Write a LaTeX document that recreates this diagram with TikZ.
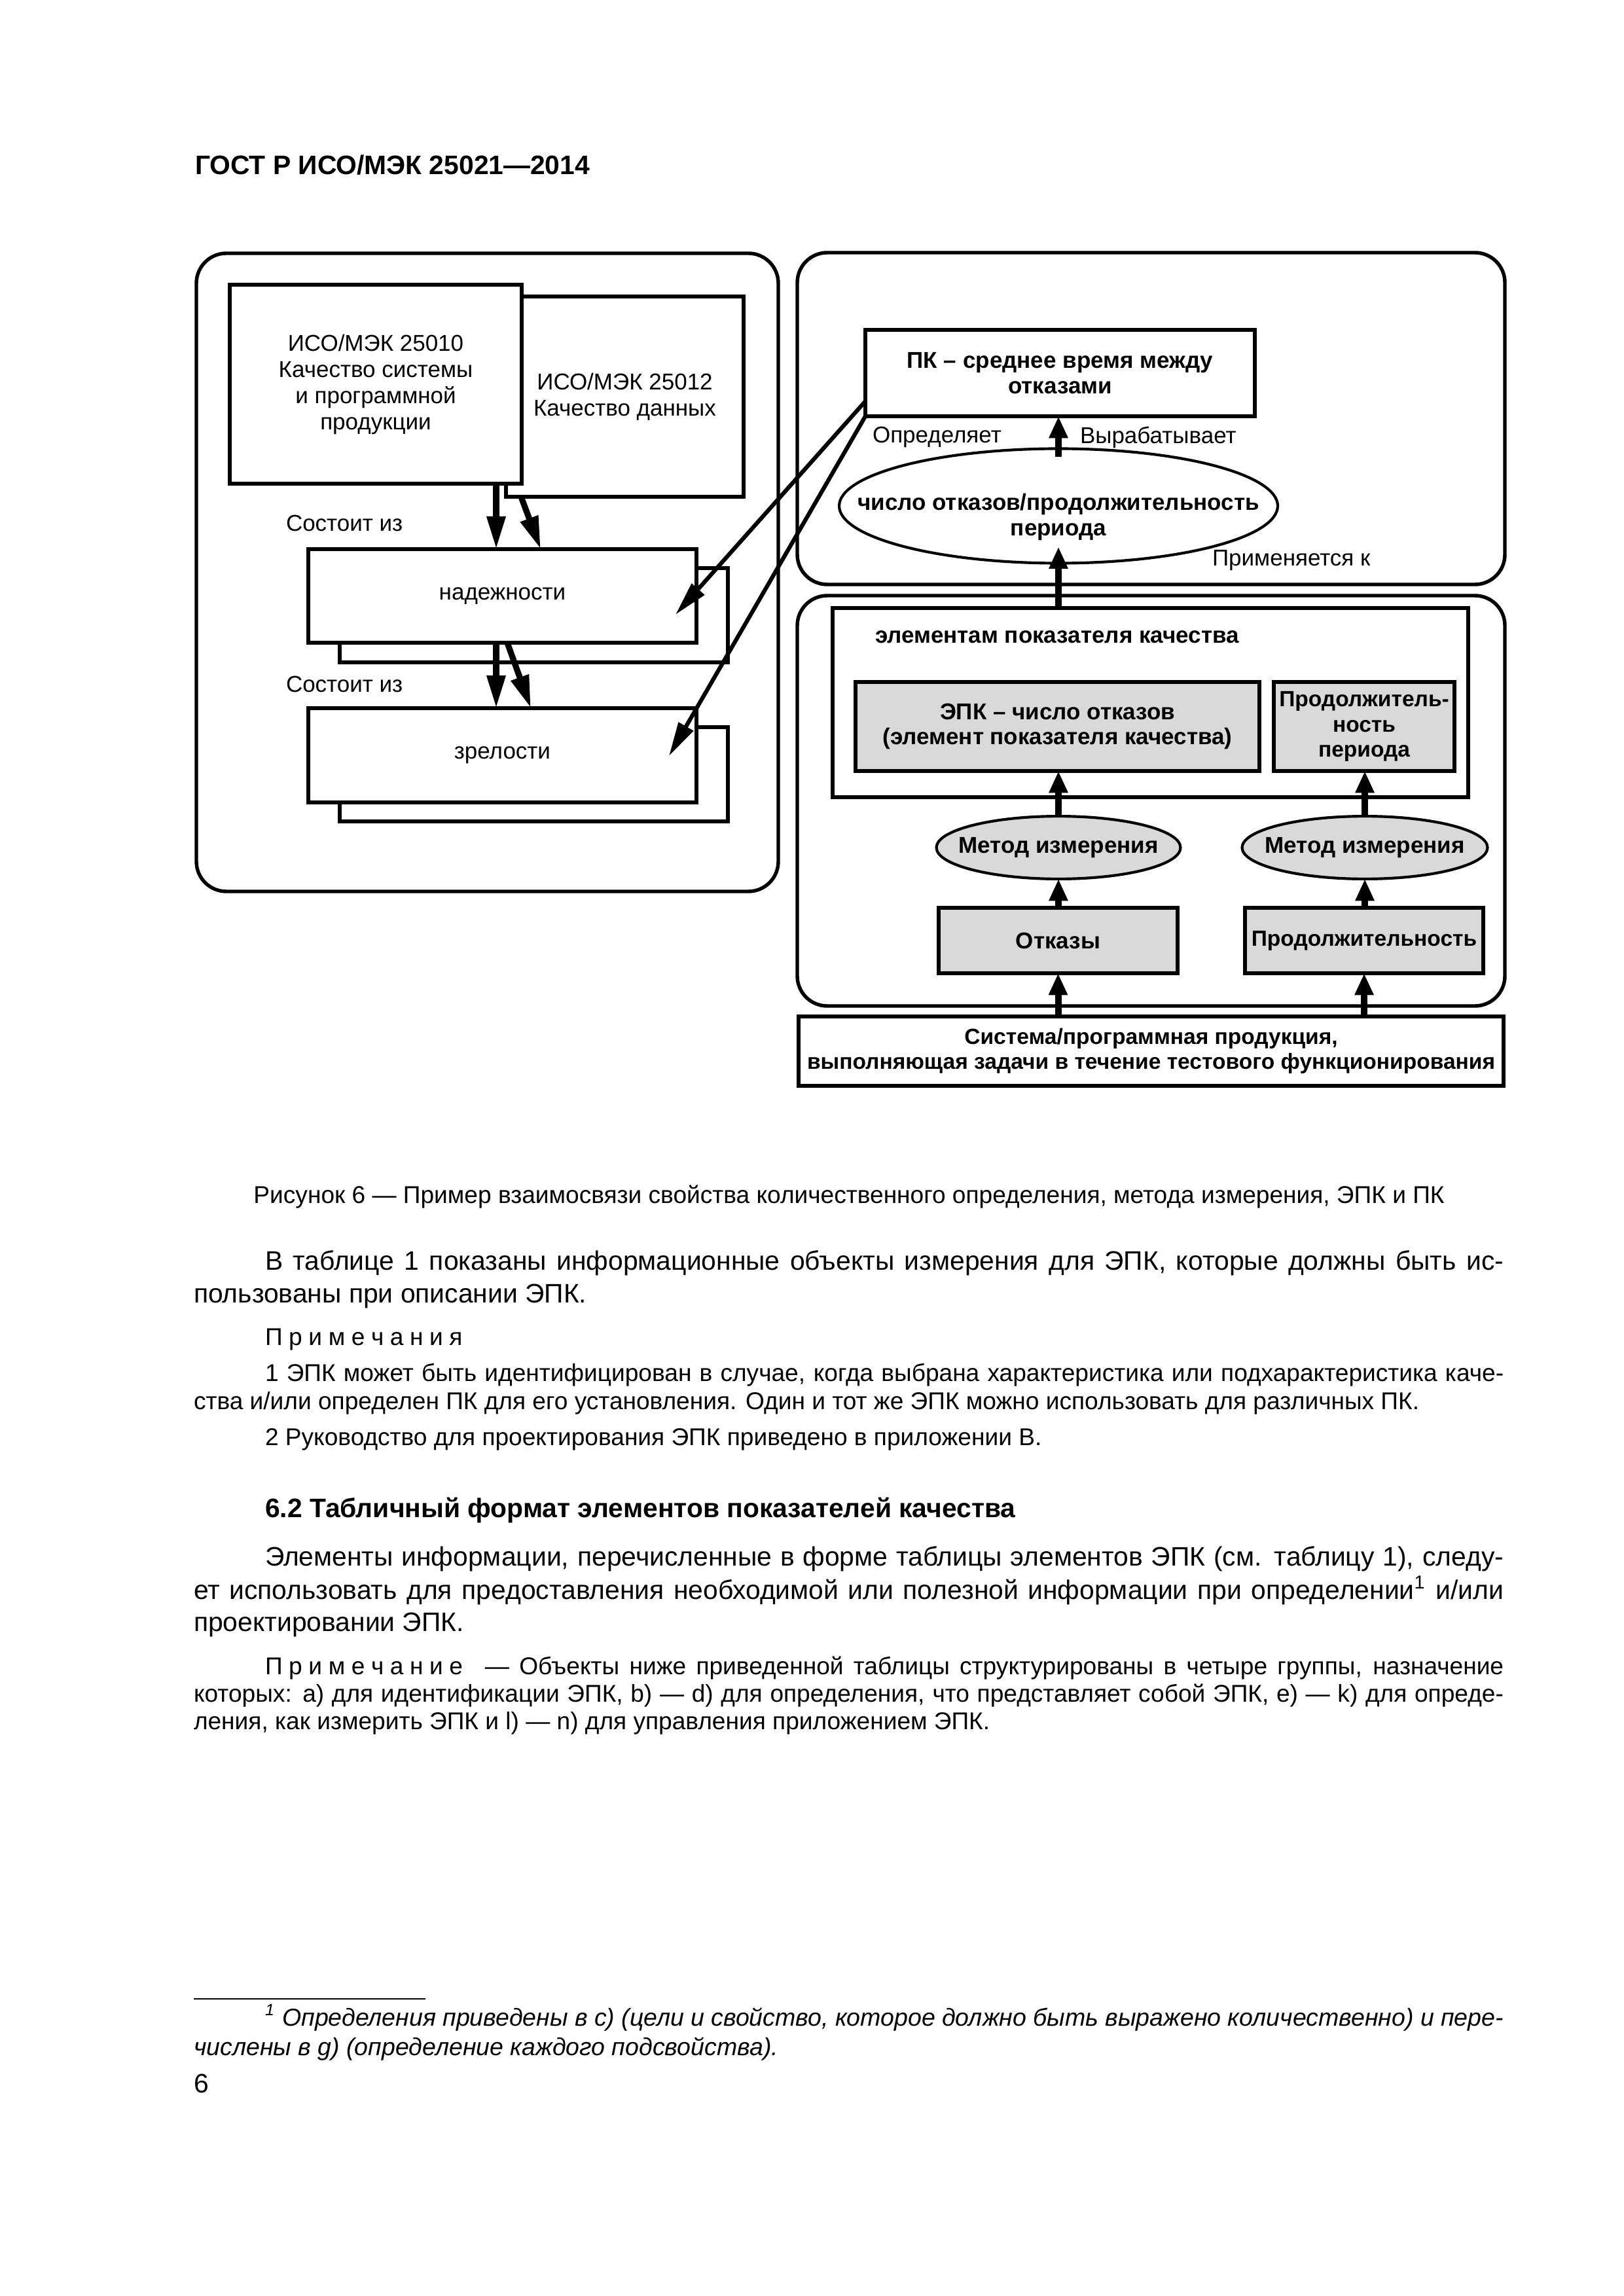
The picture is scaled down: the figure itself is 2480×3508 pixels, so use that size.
\documentclass[tikz,border=0pt]{standalone}
\usepackage{fontspec}
\setmainfont{Liberation Sans}
\usetikzlibrary{arrows.meta,shapes.geometric,fit}
\newcommand{\lsp}{\kern2.3pt}
\tikzset{
  every node/.style={inner sep=0pt, outer sep=0pt},
  frame/.style={draw, line width=1.3pt, rounded corners=11pt},
  box/.style={draw, line width=1.4pt, fill=white, align=center, rectangle},
  gbox/.style={box, fill=black!15},
  ell/.style={ellipse, draw, line width=1pt},
  dfont/.style={font=\fontsize{8.4pt}{9.6pt}\selectfont, align=center},
  bfont/.style={font=\bfseries\fontsize{8.4pt}{9.2pt}\selectfont, align=center},
  sbfont/.style={font=\bfseries\fontsize{8.05pt}{9.2pt}\selectfont, align=center},
  lbl/.style={font=\fontsize{8.4pt}{9.6pt}\selectfont},
  arr/.style={line width=2.4pt, -{Triangle[length=8pt,width=6.5pt]}},
  larr/.style={line width=2.2pt, -{Triangle[length=12pt,width=6.5pt]}},
  darr/.style={line width=1.5pt, -{Triangle[length=12.5pt,width=6pt]}},
  body/.style={anchor=base west, font=\fontsize{9.8pt}{12pt}\selectfont},
  bodyb/.style={anchor=base west, font=\bfseries\fontsize{9.8pt}{12pt}\selectfont},
  note/.style={anchor=base west, font=\fontsize{8.9pt}{10.5pt}\selectfont},
  fnote/.style={anchor=base west, font=\itshape\fontsize{9pt}{10.8pt}\selectfont}
}
\begin{document}
\begin{tikzpicture}[x=0.24pt,y=-0.24pt]
\useasboundingbox (0,0) rectangle (2480,3508);

% header
\node[bodyb] (hdr) at (298,267) {ГОСТ Р ИСО/МЭК 25021—2014};

% ---------- left panel ----------
\node[frame, fit={(300,387) (1189,1362)}] (lframe) {};
\node[box, dfont, minimum width=87.12pt, minimum height=73.44pt] (b25012) at (954.5,606) {ИСО/МЭК 25012\\Качество данных};
\node[box, dfont, minimum width=107.04pt, minimum height=72.96pt] (b25010) at (574,587) {ИСО/МЭК 25010\\Качество системы\\и программной\\продукции};
\node[box, minimum width=142.32pt, minimum height=34.56pt] (nadb) at (815.5,940) {};
\node[box, dfont, minimum width=142.32pt, minimum height=34.32pt] (nad) at (767.5,910.5) {надежности};
\node[box, minimum width=142.32pt, minimum height=34.56pt] (zreb) at (815.5,1183) {};
\node[box, dfont, minimum width=142.32pt, minimum height=34.56pt] (zre) at (767.5,1154) {зрелости};
\node[lbl, anchor=west] (sost1) at (437,799) {Состоит из};
\node[lbl, anchor=west] (sost2) at (437,1045) {Состоит из};

% ---------- right top panel ----------
\node[frame, fit={(1218,386) (2299,893)}] (rtframe) {};
\node[box, bfont, minimum width=142.8pt, minimum height=31.68pt] (pk) at (1619.5,570) {ПК – среднее время между\\отказами};
\node[ell, minimum width=160.8pt, minimum height=42pt] (ell) at (1617,773) {};
\node[bfont] (ellt) at (1617,790) {число отказов/продолжительность\\периода};
\node[lbl, anchor=west] (opr) at (1333,668) {Определяет};
\node[lbl, anchor=west] (vyr) at (1650,668) {Вырабатывает};
\node[lbl, anchor=west] (prim) at (1852,856) {Применяется к};

% ---------- right bottom panel ----------
\node[frame, fit={(1218,910) (2299,1537)}] (rbframe) {};
\node[box, minimum width=233.04pt, minimum height=69.36pt] (elem) at (1757.5,1073.5) {};
\node[bfont, anchor=west] (elemt) at (1337,973) {элементам показателя качества};
\node[gbox, bfont, minimum width=148.08pt, minimum height=32.64pt] (epk) at (1615.5,1110) {ЭПК – число отказов\\(элемент показателя качества)};
\node[gbox, sbfont, minimum width=66.24pt, minimum height=32.64pt] (dur) at (2084,1110) {Продолжитель-\\ность\\периода};
\node[ell, fill=black!15, minimum width=89.5pt, minimum height=23pt] (m1) at (1617,1295) {};
\node[bfont] (m1t) at (1617,1295) {Метод измерения};
\node[ell, fill=black!15, minimum width=90pt, minimum height=23pt] (m2) at (2085,1295) {};
\node[bfont] (m2t) at (2085,1295) {Метод измерения};
\node[gbox, bfont, minimum width=87.6pt, minimum height=24pt] (otk) at (1616.5,1437) {Отказы};
\node[gbox, sbfont, minimum width=87.36pt, minimum height=24pt] (prod) at (2084,1437) {Продолжительность};
\node[box, sbfont, minimum width=258.48pt, minimum height=25.44pt] (sys) at (1758.5,1606) {Система/программная продукция,\\выполняющая задачи в течение тестового функционирования};

% ---------- connectors ----------
\coordinate (x758) at (758,0);
\coordinate (x796) at (796,0);
\coordinate (x826) at (826,0);
\coordinate (x775) at (775,0);
\coordinate (x811) at (811,0);
\coordinate (tipN) at (1032,939);
\coordinate (tipZ) at (1022,1155);
\draw[larr] (b25010.south -| x758) -- (nad.north -| x758);
\draw[larr] (b25012.south -| x796) -- (nad.north -| x826);
\draw[larr] (nad.south -| x758) -- (zre.north -| x758);
\draw[larr] (nad.south -| x775) -- (zre.north -| x811);
\draw[darr] ([yshift=5.5pt]pk.south west) -- (tipN);
\draw[darr] (pk.south west) -- (tipZ);
\draw[arr] ([yshift=-3pt]ell.north) -- (pk.south -| ell.north);
\draw[arr] (elem.north -| ell.south) -- ([yshift=6pt]ell.south);
\draw[arr] (m1.north) -- (epk.south -| m1.north);
\draw[arr] (m2.north) -- (dur.south -| m2.north);
\draw[arr] (otk.north -| m1.south) -- (m1.south);
\draw[arr] (prod.north -| m2.south) -- (m2.south);
\draw[arr] (sys.north -| otk.south) -- (otk.south);
\draw[arr] (sys.north -| prod.south) -- (prod.south);

% ---------- page text ----------
\node[note, anchor=base] (cap) at (1297,1838) {Рисунок 6 — Пример взаимосвязи свойства количественного определения, метода измерения, ЭПК и ПК};
\node[body] (p1) at (405,1940) {\makebox[454.1pt][s]{В таблице 1 показаны информационные объекты измерения для ЭПК, которые должны быть ис-}};
\node[body] (p2) at (296,1990) {пользованы при описании ЭПК.};
\node[note] (n0) at (405,2055) {П\lsp р\lsp и\lsp м\lsp е\lsp ч\lsp а\lsp н\lsp и\lsp я};
\node[note] (n1) at (405,2110) {\makebox[454.1pt][s]{1 ЭПК может быть идентифицирован в случае, когда выбрана характеристика или подхарактеристика каче-}};
\node[note] (n2) at (296,2153) {ства и/или определен ПК для его установления. Один и тот же ЭПК можно использовать для различных ПК.};
\node[note] (n3) at (405,2208) {2 Руководство для проектирования ЭПК приведено в приложении В.};
\node[bodyb] (s62) at (405,2318) {6.2 Табличный формат элементов показателей качества};
\node[body] (q1) at (405,2392) {\makebox[454.1pt][s]{Элементы информации, перечисленные в форме таблицы элементов ЭПК (см. таблицу 1), следу-}};
\node[body] (q2) at (296,2443) {\makebox[480.2pt][s]{ет использовать для предоставления необходимой или полезной информации при определении\textsuperscript{1} и/или}};
\node[body] (q3) at (296,2492) {проектировании ЭПК.};
\node[note] (r1) at (405,2558) {\makebox[454.1pt][s]{П\lsp р\lsp и\lsp м\lsp е\lsp ч\lsp а\lsp н\lsp и\lsp е\hspace{0.5em} — Объекты ниже приведенной таблицы структурированы в четыре группы, назначение}};
\node[note] (r2) at (296,2600) {\makebox[480.2pt][s]{которых: а) для идентификации ЭПК, b) — d) для определения, что представляет собой ЭПК, е) — k) для опреде-}};
\node[note] (r3) at (296,2642) {ления, как измерить ЭПК и l) — n) для управления приложением ЭПК.};
\draw[line width=0.5pt] (296,3054) -- (650,3054);
\node[fnote] (f1) at (405,3095) {\makebox[454.1pt][s]{\textsuperscript{1} Определения приведены в с) (цели и свойство, которое должно быть выражено количественно) и пере-}};
\node[fnote] (f2) at (296,3140) {числены в g) (определение каждого подсвойства).};
\node[body] (pg) at (296,3197) {6};
\end{tikzpicture}
\end{document}
